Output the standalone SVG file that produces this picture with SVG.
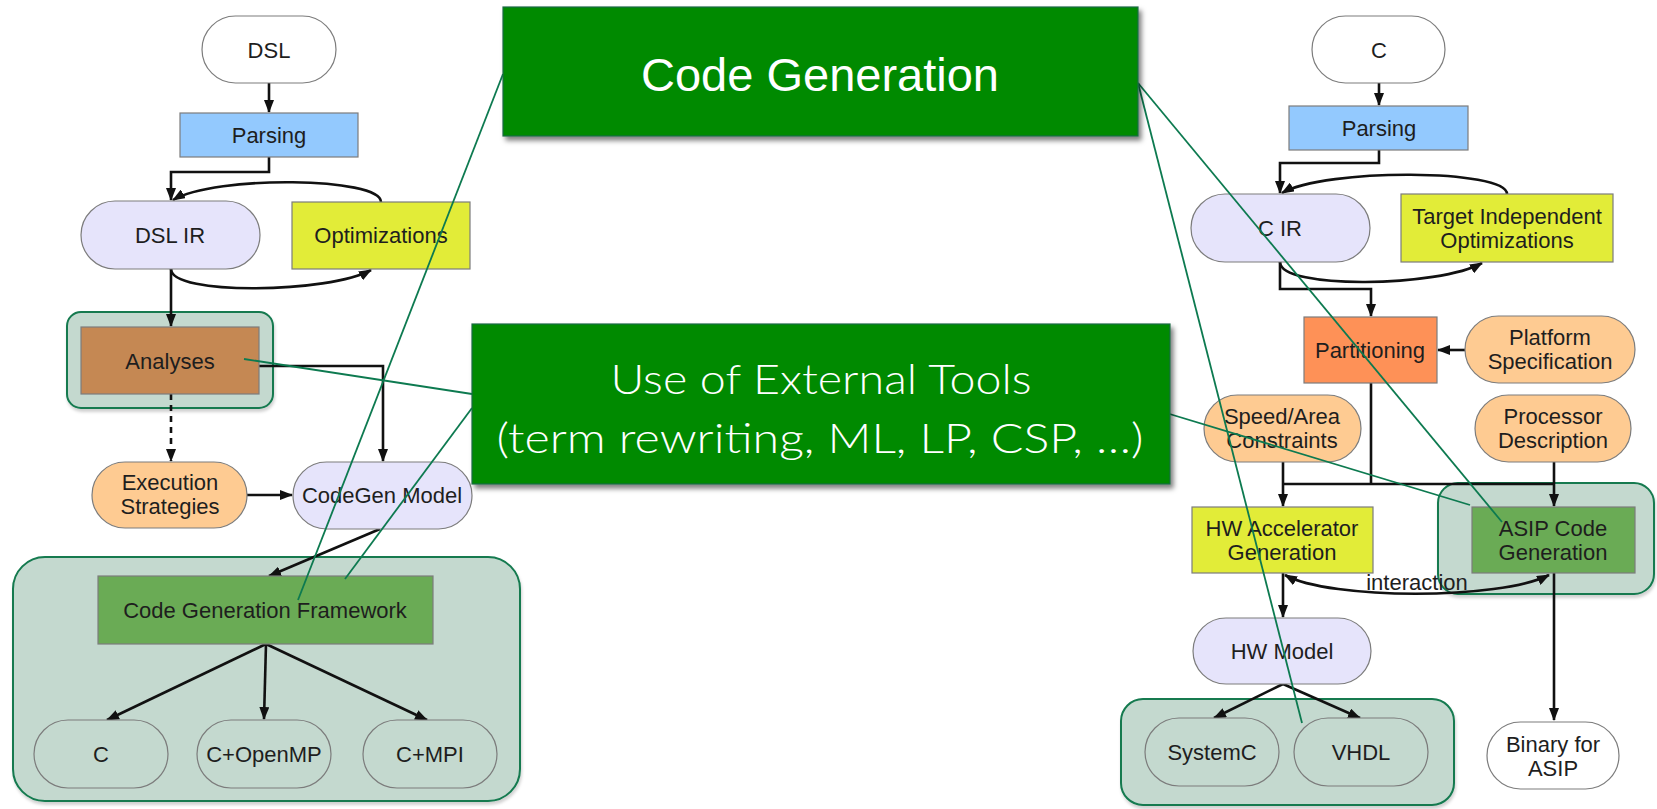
<svg xmlns="http://www.w3.org/2000/svg" width="1657" height="809" viewBox="0 0 1657 809">
  <defs>
    <style>
      .lbl { font-family: "Liberation Sans", Arial, sans-serif; font-size: 22px; fill: #1e1e1e; text-anchor: middle; }
      .node { stroke: #7c7c7c; stroke-width: 1.2; }
      .white { fill: #ffffff; }
      .blue { fill: #93c9fe; }
      .lav { fill: #e6e4fb; }
      .yellow { fill: #e2ec38; }
      .brown { fill: #c58853; }
      .peach { fill: #fecb92; }
      .orange { fill: #fe9157; }
      .green { fill: #6aab55; }
      .inner { fill: #c4d9cf; }
      .box { fill: #c4d9cf; stroke: #137a4f; stroke-width: 2; }
      .edge { fill: none; stroke: #111111; stroke-width: 2.6; }
      .dash { stroke-dasharray: 6 5; }
      .callout { fill: none; stroke: #0d7a50; stroke-width: 1.8; }
      .banner { fill: #038a03; stroke: #1c6b45; stroke-width: 1.2; }
      .bannerTxt { fill: #ffffff; text-anchor: middle; }
    </style>
    <marker id="arrow" markerUnits="userSpaceOnUse" markerWidth="13" markerHeight="10" refX="12" refY="5" orient="auto-start-reverse">
      <path d="M0,0 L13,5 L0,10 z" fill="#111111"/>
    </marker>
    <filter id="boxShadow" x="-10%" y="-10%" width="120%" height="130%">
      <feDropShadow dx="1" dy="3" stdDeviation="1.5" flood-color="#000000" flood-opacity="0.18"/>
    </filter>
    <filter id="bannerShadow" x="-5%" y="-10%" width="115%" height="130%">
      <feDropShadow dx="3" dy="4" stdDeviation="2.5" flood-color="#000000" flood-opacity="0.5"/>
    </filter>
  </defs>

  <rect x="0" y="0" width="1657" height="809" fill="#ffffff"/>

  <!-- grouping containers -->
  <g id="analysis-group">
    <rect class="box" x="67" y="312" width="206" height="96" rx="14" filter="url(#boxShadow)"/>
  </g>
  <g id="framework-group">
    <rect class="box" x="13" y="557" width="507" height="244" rx="32" filter="url(#boxShadow)"/>
  </g>
  <g id="asip-group">
    <rect class="box" x="1438" y="483" width="216" height="111" rx="20" filter="url(#boxShadow)"/>
  </g>
  <g id="hdl-group">
    <rect class="box" x="1121" y="699" width="333" height="106" rx="22" filter="url(#boxShadow)"/>
  </g>

  <!-- flow connectors -->
  <g id="connectors">
    <!-- DSL flow -->
    <path class="edge" d="M269,83 V112" marker-end="url(#arrow)"/>
    <path class="edge" d="M269,157 V172 H171 V200" marker-end="url(#arrow)"/>
    <path class="edge" d="M381,202 C381,177 215,175 173,200" marker-end="url(#arrow)"/>
    <path class="edge" d="M171,269 C171,296 330,293 371,270" marker-end="url(#arrow)"/>
    <path class="edge" d="M171,269 V326" marker-end="url(#arrow)"/>
    <path class="edge dash" d="M171,394 V461" marker-end="url(#arrow)"/>
    <path class="edge" d="M259,366 H383 V461" marker-end="url(#arrow)"/>
    <path class="edge" d="M247,495 H292" marker-end="url(#arrow)"/>
    <path class="edge" d="M380,529 L269,576" marker-end="url(#arrow)"/>
    <path class="edge" d="M266,644 L107,720" marker-end="url(#arrow)"/>
    <path class="edge" d="M266,644 L264,719" marker-end="url(#arrow)"/>
    <path class="edge" d="M266,644 L427,720" marker-end="url(#arrow)"/>

    <!-- C flow -->
    <path class="edge" d="M1379,83 V105" marker-end="url(#arrow)"/>
    <path class="edge" d="M1379,150 V163 H1280 V193" marker-end="url(#arrow)"/>
    <path class="edge" d="M1507,194 C1507,169 1325,168 1282,193" marker-end="url(#arrow)"/>
    <path class="edge" d="M1280,262 C1280,290 1440,287 1482,263" marker-end="url(#arrow)"/>
    <path class="edge" d="M1280,262 V289 H1371 V316" marker-end="url(#arrow)"/>
    <path class="edge" d="M1465,350 H1438" marker-end="url(#arrow)"/>
    <path class="edge" d="M1371,383 V484"/>
    <path class="edge" d="M1283,484 H1554"/>
    <path class="edge" d="M1283,462 V506" marker-end="url(#arrow)"/>
    <path class="edge" d="M1554,462 V506" marker-end="url(#arrow)"/>
    <path class="edge" d="M1283,573 V617" marker-end="url(#arrow)"/>
    <path class="edge" d="M1285,575 C1330,600 1500,600 1549,575" marker-start="url(#arrow)" marker-end="url(#arrow)"/>
    <path class="edge" d="M1283,684 L1214,718" marker-end="url(#arrow)"/>
    <path class="edge" d="M1283,684 L1360,718" marker-end="url(#arrow)"/>
    <path class="edge" d="M1554,573 V720" marker-end="url(#arrow)"/>
    <text class="lbl" x="1417" y="590">interaction</text>
  </g>

  <!-- DSL side nodes -->
  <g id="dsl">
    <rect class="node white" x="202" y="16" width="134" height="67" rx="33.5"/>
    <text class="lbl" x="269" y="58">DSL</text>
  </g>
  <g id="dsl-parsing">
    <rect class="node blue" x="180" y="113" width="178" height="44"/>
    <text class="lbl" x="269" y="143">Parsing</text>
  </g>
  <g id="dsl-ir">
    <rect class="node lav" x="81" y="201" width="179" height="68" rx="34"/>
    <text class="lbl" x="170" y="243">DSL IR</text>
  </g>
  <g id="optimizations">
    <rect class="node yellow" x="292" y="202" width="178" height="67"/>
    <text class="lbl" x="381" y="243">Optimizations</text>
  </g>
  <g id="analyses">
    <rect class="node brown" x="81" y="327" width="178" height="67"/>
    <text class="lbl" x="170" y="369">Analyses</text>
  </g>
  <g id="execution-strategies">
    <rect class="node peach" x="92" y="462" width="155" height="66" rx="33"/>
    <text class="lbl" x="170" y="490">Execution</text>
    <text class="lbl" x="170" y="514">Strategies</text>
  </g>
  <g id="codegen-model">
    <rect class="node lav" x="293" y="462" width="179" height="67" rx="33.5"/>
    <text class="lbl" x="382" y="503">CodeGen Model</text>
  </g>
  <g id="codegen-framework">
    <rect class="node green" x="98" y="576" width="335" height="68"/>
    <text class="lbl" x="265" y="618">Code Generation Framework</text>
  </g>
  <g id="out-c">
    <rect class="node inner" x="34" y="720" width="134" height="68" rx="34"/>
    <text class="lbl" x="101" y="762">C</text>
  </g>
  <g id="out-openmp">
    <rect class="node inner" x="197" y="720" width="134" height="68" rx="34"/>
    <text class="lbl" x="264" y="762">C+OpenMP</text>
  </g>
  <g id="out-mpi">
    <rect class="node inner" x="363" y="720" width="134" height="68" rx="34"/>
    <text class="lbl" x="430" y="762">C+MPI</text>
  </g>

  <!-- C side nodes -->
  <g id="c-source">
    <rect class="node white" x="1312" y="16" width="133" height="67" rx="33.5"/>
    <text class="lbl" x="1379" y="58">C</text>
  </g>
  <g id="c-parsing">
    <rect class="node blue" x="1289" y="106" width="179" height="44"/>
    <text class="lbl" x="1379" y="136">Parsing</text>
  </g>
  <g id="c-ir">
    <rect class="node lav" x="1191" y="194" width="179" height="68" rx="34"/>
    <text class="lbl" x="1280" y="236">C IR</text>
  </g>
  <g id="target-independent">
    <rect class="node yellow" x="1401" y="194" width="212" height="68"/>
    <text class="lbl" x="1507" y="224">Target Independent</text>
    <text class="lbl" x="1507" y="248">Optimizations</text>
  </g>
  <g id="partitioning">
    <rect class="node orange" x="1304" y="317" width="133" height="66"/>
    <text class="lbl" x="1370" y="358">Partitioning</text>
  </g>
  <g id="platform-spec">
    <rect class="node peach" x="1465" y="316" width="170" height="67" rx="33.5"/>
    <text class="lbl" x="1550" y="345">Platform</text>
    <text class="lbl" x="1550" y="369">Specification</text>
  </g>
  <g id="speed-area">
    <rect class="node peach" x="1204" y="395" width="157" height="67" rx="33.5"/>
    <text class="lbl" x="1282" y="424">Speed/Area</text>
    <text class="lbl" x="1282" y="448">Constraints</text>
  </g>
  <g id="processor-desc">
    <rect class="node peach" x="1475" y="395" width="156" height="67" rx="33.5"/>
    <text class="lbl" x="1553" y="424">Processor</text>
    <text class="lbl" x="1553" y="448">Description</text>
  </g>
  <g id="hw-accelerator">
    <rect class="node yellow" x="1192" y="507" width="181" height="66"/>
    <text class="lbl" x="1282" y="536">HW Accelerator</text>
    <text class="lbl" x="1282" y="560">Generation</text>
  </g>
  <g id="asip-codegen">
    <rect class="node green" x="1472" y="507" width="163" height="66"/>
    <text class="lbl" x="1553" y="536">ASIP Code</text>
    <text class="lbl" x="1553" y="560">Generation</text>
  </g>
  <g id="hw-model">
    <rect class="node lav" x="1193" y="618" width="178" height="66" rx="33"/>
    <text class="lbl" x="1282" y="659">HW Model</text>
  </g>
  <g id="systemc">
    <rect class="node inner" x="1145" y="718" width="134" height="68" rx="34"/>
    <text class="lbl" x="1212" y="760">SystemC</text>
  </g>
  <g id="vhdl">
    <rect class="node inner" x="1294" y="718" width="134" height="68" rx="34"/>
    <text class="lbl" x="1361" y="760">VHDL</text>
  </g>
  <g id="binary-asip">
    <rect class="node white" x="1487" y="722" width="132" height="67" rx="33.5"/>
    <text class="lbl" x="1553" y="752">Binary for</text>
    <text class="lbl" x="1553" y="776">ASIP</text>
  </g>

  <!-- callout leader lines -->
  <g id="callout-lines">
    <path class="callout" d="M503,74 L298,600"/>
    <path class="callout" d="M244,359 L472,394"/>
    <path class="callout" d="M472,408 L345,579"/>
    <path class="callout" d="M1138,83 L1502,522"/>
    <path class="callout" d="M1138,83 L1302,723"/>
    <path class="callout" d="M1163,412 L1470,505"/>
  </g>

  <!-- callout banners -->
  <g id="banner-codegen">
    <rect class="banner" x="503" y="7" width="635" height="129" filter="url(#bannerShadow)"/>
    <text class="bannerTxt" x="820" y="91" font-family="Liberation Sans, Arial, sans-serif" font-size="47">Code Generation</text>
  </g>
  <g id="banner-external-tools">
    <rect class="banner" x="472" y="324" width="698" height="160" filter="url(#bannerShadow)"/>
    <text class="bannerTxt" x="821" y="394" font-family="Lato, 'Open Sans', sans-serif" font-weight="300" font-size="41" textLength="421" lengthAdjust="spacingAndGlyphs">Use of External Tools</text>
    <text class="bannerTxt" x="820" y="453" font-family="Lato, 'Open Sans', sans-serif" font-weight="300" font-size="41" textLength="647" lengthAdjust="spacingAndGlyphs">(term rewriting, ML, LP, CSP, …)</text>
  </g>
</svg>
